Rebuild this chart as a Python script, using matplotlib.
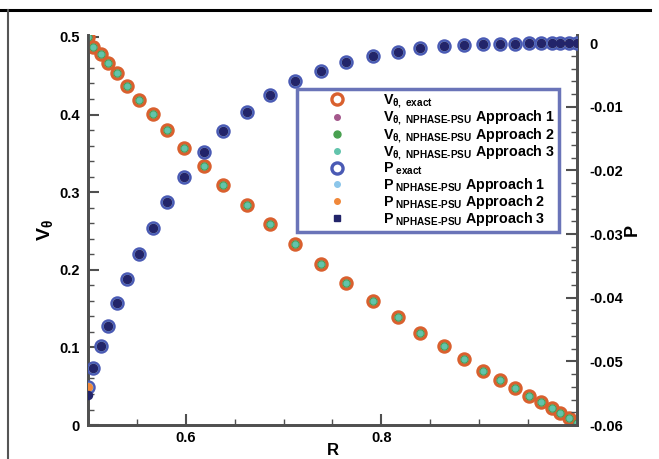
import matplotlib
matplotlib.use("Agg")
import matplotlib.pyplot as plt
from matplotlib.lines import Line2D
from matplotlib.ticker import FixedLocator, MultipleLocator

plt.rcParams["font.family"] = ["Liberation Sans", "DejaVu Sans"]
plt.rcParams["font.weight"] = "bold"
plt.rcParams["mathtext.fontset"] = "custom"
plt.rcParams["mathtext.rm"] = "Liberation Sans:bold"
plt.rcParams["mathtext.it"] = "Liberation Sans:bold"
plt.rcParams["mathtext.bf"] = "Liberation Sans:bold"
plt.rcParams["mathtext.sf"] = "Liberation Sans:bold"

# radial grid (stretched towards both walls)
r = [0.500, 0.505, 0.513, 0.520, 0.530, 0.540, 0.552, 0.566, 0.581, 0.598,
     0.619, 0.638, 0.663, 0.686, 0.712, 0.738, 0.764, 0.791, 0.817, 0.840,
     0.864, 0.884, 0.904, 0.921, 0.937, 0.951, 0.963, 0.974, 0.983, 0.992,
     1.000]

v_exact = [0.500, 0.487, 0.478, 0.466, 0.454, 0.437, 0.419, 0.401, 0.380, 0.357,
           0.334, 0.309, 0.284, 0.259, 0.233, 0.207, 0.183, 0.160, 0.139, 0.119,
           0.102, 0.085, 0.070, 0.058, 0.048, 0.037, 0.030, 0.022, 0.015, 0.009,
           0.002]
# the three NPHASE-PSU runs sit on top of the exact curve at this scale
v_app1 = list(v_exact)
v_app2 = list(v_exact)
v_app3 = list(v_exact)

p_exact = [-0.0540, -0.0510, -0.0476, -0.0445, -0.0408, -0.0371, -0.0331, -0.0291,
           -0.0250, -0.0210, -0.0171, -0.0138, -0.0108, -0.0082, -0.0060, -0.0044,
           -0.0030, -0.0020, -0.0014, -0.0008, -0.0004, -0.0003, -0.0002, -0.0001,
           -0.0001, 0.0, 0.0, 0.0, 0.0, 0.0, 0.0]
p_app1 = list(p_exact)
p_app2 = list(p_exact)
p_app3 = [-0.0553] + p_exact[1:]

v_ticks = [0, 0.1, 0.2, 0.3, 0.4, 0.5]
v_ticklabels = ["0", "0.1", "0.2", "0.3", "0.4", "0.5"]
p_ticks = [-0.06, -0.05, -0.04, -0.03, -0.02, -0.01, 0]
p_ticklabels = ["-0.06", "-0.05", "-0.04", "-0.03", "-0.02", "-0.01", "0"]
r_ticks = [0.6, 0.8]
r_ticklabels = ["0.6", "0.8"]

sub = r"\theta,\ NPHASE\text{-}PSU"
labels = [
    r"$V_{\theta,\ exact}$",
    r"$V_{%s}$ Approach 1" % sub,
    r"$V_{%s}$ Approach 2" % sub,
    r"$V_{%s}$ Approach 3" % sub,
    r"$P_{\ exact}$",
    r"$P_{\ NPHASE\text{-}PSU}$ Approach 1",
    r"$P_{\ NPHASE\text{-}PSU}$ Approach 2",
    r"$P_{\ NPHASE\text{-}PSU}$ Approach 3",
]

c_vex, c_v1, c_v2, c_v3 = "#d9602e", "#a4588c", "#48a050", "#62c4ac"
c_pex, c_p1, c_p2, c_p3 = "#4a5ab4", "#8cc6ea", "#f0883a", "#22246a"
spine_c = "#505050"

fig = plt.figure(figsize=(6.59, 4.59), dpi=100)
ax = fig.add_axes([0.1335, 0.074, 0.742, 0.850])
ax2 = ax.twinx()

ax.plot(r, v_exact, ls="none", marker="o", ms=8, mfc="none", mec=c_vex, mew=2.4, zorder=3)
ax.plot(r, v_app1, ls="none", marker="o", ms=4.5, color=c_v1, zorder=4)
ax.plot(r, v_app2, ls="none", marker="o", ms=5, color=c_v2, zorder=5)
ax.plot(r, v_app3, ls="none", marker="o", ms=3.5, color=c_v3, zorder=6)

ax2.plot(r, p_exact, ls="none", marker="o", ms=8, mfc="none", mec=c_pex, mew=2.4, zorder=3)
ax2.plot(r, p_app1, ls="none", marker="o", ms=6, color=c_p1, zorder=4)
ax2.plot(r, p_app2, ls="none", marker="o", ms=5.5, color=c_p2, zorder=5)
ax2.plot(r, p_app3, ls="none", marker="o", ms=5.8, color=c_p3, zorder=6)

ax.set_xlim(0.5, 1.0)
ax.set_ylim(0, 0.5026)
ax2.set_ylim(-0.06, 0.0013)

ax.xaxis.set_major_locator(FixedLocator(r_ticks))
ax.set_xticklabels(r_ticklabels)
ax.xaxis.set_minor_locator(MultipleLocator(0.05))
ax.set_yticks(v_ticks)
ax.set_yticklabels(v_ticklabels)
ax.yaxis.set_minor_locator(MultipleLocator(0.02))
ax2.set_yticks(p_ticks)
ax2.set_yticklabels(p_ticklabels)
ax2.yaxis.set_minor_locator(MultipleLocator(0.002))

for a in (ax, ax2):
    for s in a.spines.values():
        s.set_color(spine_c)
        s.set_linewidth(2)
    a.spines["top"].set_visible(False)
    a.tick_params(which="major", direction="in", length=8, width=1.5, color=spine_c,
                  labelsize=10.5)
    a.tick_params(which="minor", direction="in", length=4, width=1, color=spine_c)
ax.tick_params(axis="y", which="both", right=False, pad=6)
ax.tick_params(axis="x", which="both", top=False, pad=4)
ax2.tick_params(axis="y", which="both", left=False, pad=9)

ax.set_xlabel("R", fontsize=12, fontweight="bold", labelpad=-1)
ax.set_ylabel(r"$V_\theta$", fontsize=14, labelpad=3)
ax2.set_ylabel("P", fontsize=13, fontweight="bold", labelpad=0)

handles = [
    Line2D([], [], ls="none", marker="o", ms=8, mfc="none", mec=c_vex, mew=2.4),
    Line2D([], [], ls="none", marker="o", ms=4, color=c_v1),
    Line2D([], [], ls="none", marker="o", ms=5, color=c_v2),
    Line2D([], [], ls="none", marker="o", ms=4, color=c_v3),
    Line2D([], [], ls="none", marker="o", ms=8, mfc="none", mec=c_pex, mew=2.4),
    Line2D([], [], ls="none", marker="o", ms=4, color=c_p1),
    Line2D([], [], ls="none", marker="o", ms=4, color=c_p2),
    Line2D([], [], ls="none", marker="s", ms=4, color=c_p3),
]
leg = ax2.legend(handles, labels, loc="upper left", bbox_to_anchor=(0.427, 0.862),
                 numpoints=1, handlelength=5.0, handletextpad=0.7,
                 labelspacing=-0.08, borderpad=0.3, borderaxespad=0, fancybox=False,
                 framealpha=1, edgecolor="#6a74b8", prop={"weight": "bold", "size": 10.3})
leg.get_frame().set_linewidth(2.5)
leg.set_zorder(10)

# scanned page frame
fig.add_artist(Line2D([0, 0.986], [0.978, 0.978], transform=fig.transFigure,
                      color="black", lw=2.2))
fig.add_artist(Line2D([0.012, 0.012], [0, 0.978], transform=fig.transFigure,
                      color="#555555", lw=1.5))

fig.savefig("out.png", dpi=100)
